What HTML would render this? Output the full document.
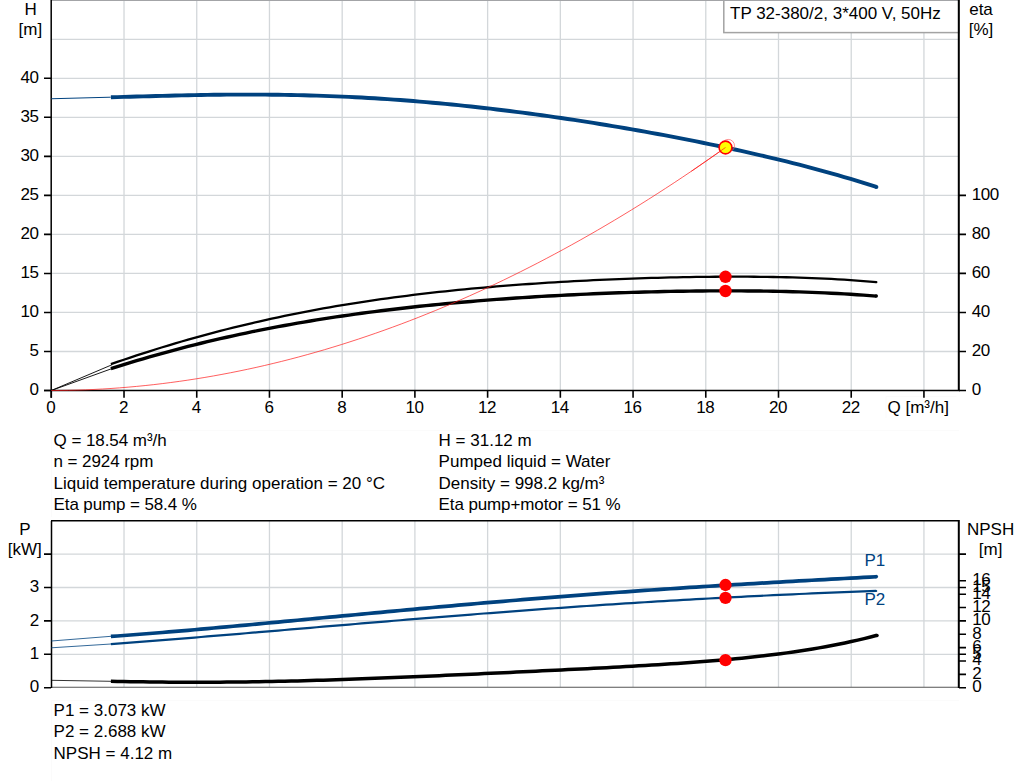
<!DOCTYPE html><html><head><meta charset="utf-8"><style>
html,body{margin:0;padding:0;background:#fff;}
svg{display:block;}
text{font-family:'Liberation Sans', Arial, sans-serif;font-size:17px;fill:#000;} .n{letter-spacing:-0.45px;}
</style></head><body>
<svg width="1024" height="781" viewBox="0 0 1024 781">
<rect width="1024" height="781" fill="#fff"/>
<path d="M124.02,0 V390.5 M196.74,0 V390.5 M269.46,0 V390.5 M342.18,0 V390.5 M414.90,0 V390.5 M487.62,0 V390.5 M560.34,0 V390.5 M633.06,0 V390.5 M705.78,0 V390.5 M778.50,0 V390.5 M851.22,0 V390.5 M923.94,0 V390.5 M51.3,351.48 H958.8 M51.3,312.45 H958.8 M51.3,273.43 H958.8 M51.3,234.40 H958.8 M51.3,195.38 H958.8 M51.3,156.35 H958.8 M51.3,117.32 H958.8 M51.3,78.30 H958.8 M51.3,39.28 H958.8" stroke="#d3d7da" stroke-width="1.3" fill="none"/>
<rect x="723.8" y="-1" width="235" height="33.6" fill="#fff" stroke="#a3a3a3" stroke-width="1.5"/>
<text x="730" y="19">TP 32-380/2, 3*400 V, 50Hz</text>
<path d="M51,0.5 H959" stroke="#a3a4a7" stroke-width="1.2"/>
<path d="M886,418 V396.5 H956.5" stroke="#fbfbfb" stroke-width="1" fill="none"/>
<path d="M51.2,0 V397.8 M44,390.5 H960" stroke="#000" stroke-width="1.5" fill="none"/>
<path d="M958.8,0 V391" stroke="#000" stroke-width="2" fill="none"/>
<text class="n" x="38.6" y="395.3" text-anchor="end">0</text>
<text class="n" x="38.6" y="356.3" text-anchor="end">5</text>
<text class="n" x="38.6" y="317.2" text-anchor="end">10</text>
<text class="n" x="38.6" y="278.2" text-anchor="end">15</text>
<text class="n" x="38.6" y="239.2" text-anchor="end">20</text>
<text class="n" x="38.6" y="200.2" text-anchor="end">25</text>
<text class="n" x="38.6" y="161.2" text-anchor="end">30</text>
<text class="n" x="38.6" y="122.1" text-anchor="end">35</text>
<text class="n" x="38.6" y="83.1" text-anchor="end">40</text>
<text class="n" x="50.80" y="413" text-anchor="middle">0</text>
<text class="n" x="123.52" y="413" text-anchor="middle">2</text>
<text class="n" x="196.24" y="413" text-anchor="middle">4</text>
<text class="n" x="268.96" y="413" text-anchor="middle">6</text>
<text class="n" x="341.68" y="413" text-anchor="middle">8</text>
<text class="n" x="414.40" y="413" text-anchor="middle">10</text>
<text class="n" x="487.12" y="413" text-anchor="middle">12</text>
<text class="n" x="559.84" y="413" text-anchor="middle">14</text>
<text class="n" x="632.56" y="413" text-anchor="middle">16</text>
<text class="n" x="705.28" y="413" text-anchor="middle">18</text>
<text class="n" x="778.00" y="413" text-anchor="middle">20</text>
<text class="n" x="850.72" y="413" text-anchor="middle">22</text>
<text class="n" x="971.8" y="395.3">0</text>
<text class="n" x="971.8" y="356.3">20</text>
<text class="n" x="971.8" y="317.2">40</text>
<text class="n" x="971.8" y="278.2">60</text>
<text class="n" x="971.8" y="239.2">80</text>
<text class="n" x="971.8" y="200.2">100</text>
<path d="M44,390.50 H51 M44,351.48 H51 M44,312.45 H51 M44,273.43 H51 M44,234.40 H51 M44,195.38 H51 M44,156.35 H51 M44,117.32 H51 M44,78.30 H51 M51.30,390 V397.8 M124.02,390 V397.8 M196.74,390 V397.8 M269.46,390 V397.8 M342.18,390 V397.8 M414.90,390 V397.8 M487.62,390 V397.8 M560.34,390 V397.8 M633.06,390 V397.8 M705.78,390 V397.8 M778.50,390 V397.8 M851.22,390 V397.8 M923.94,390 V397.8 M959,390.50 H966 M959,351.47 H966 M959,312.45 H966 M959,273.42 H966 M959,234.40 H966 M959,195.37 H966" stroke="#000" stroke-width="1.6" fill="none"/>
<text x="30.6" y="15" text-anchor="middle">H</text>
<text x="30.4" y="35" text-anchor="middle">[m]</text>
<text x="981" y="15" text-anchor="middle">eta</text>
<text x="981" y="35" text-anchor="middle">[%]</text>
<text x="887.5" y="413">Q [m³/h]</text>
<path d="M51.3,98.75 L110.7,97.2" stroke="#00427f" stroke-width="1" fill="none"/>
<path d="M110.90,97.29 L117.33,97.10 L123.77,96.92 L130.20,96.73 L136.63,96.55 L143.06,96.37 L149.50,96.19 L155.93,96.01 L162.36,95.84 L168.79,95.68 L175.23,95.52 L181.66,95.37 L188.09,95.24 L194.53,95.11 L200.96,94.99 L207.39,94.89 L213.82,94.80 L220.26,94.73 L226.69,94.67 L233.12,94.62 L239.56,94.59 L245.99,94.58 L252.42,94.58 L258.85,94.60 L265.29,94.64 L271.72,94.69 L278.15,94.77 L284.58,94.86 L291.02,94.98 L297.45,95.11 L303.88,95.27 L310.32,95.44 L316.75,95.63 L323.18,95.85 L329.61,96.08 L336.05,96.34 L342.48,96.62 L348.91,96.91 L355.35,97.23 L361.78,97.57 L368.21,97.93 L374.64,98.32 L381.08,98.72 L387.51,99.14 L393.94,99.59 L400.37,100.05 L406.81,100.54 L413.24,101.05 L419.67,101.57 L426.11,102.12 L432.54,102.69 L438.97,103.28 L445.40,103.88 L451.84,104.51 L458.27,105.16 L464.70,105.83 L471.14,106.51 L477.57,107.22 L484.00,107.94 L490.43,108.68 L496.87,109.44 L503.30,110.22 L509.73,111.02 L516.16,111.83 L522.60,112.67 L529.03,113.52 L535.46,114.38 L541.90,115.27 L548.33,116.17 L554.76,117.09 L561.19,118.02 L567.63,118.97 L574.06,119.94 L580.49,120.92 L586.93,121.92 L593.36,122.94 L599.79,123.97 L606.22,125.02 L612.66,126.09 L619.09,127.17 L625.52,128.27 L631.95,129.38 L638.39,130.51 L644.82,131.65 L651.25,132.81 L657.69,133.99 L664.12,135.19 L670.55,136.40 L676.98,137.63 L683.42,138.87 L689.85,140.14 L696.28,141.42 L702.72,142.72 L709.15,144.04 L715.58,145.37 L722.01,146.73 L728.45,148.11 L734.88,149.50 L741.31,150.92 L747.74,152.36 L754.18,153.82 L760.61,155.30 L767.04,156.81 L773.48,158.34 L779.91,159.90 L786.34,161.48 L792.77,163.09 L799.21,164.73 L805.64,166.39 L812.07,168.09 L818.51,169.82 L824.94,171.58 L831.37,173.37 L837.80,175.19 L844.24,177.05 L850.67,178.95 L857.10,180.89 L863.53,182.87 L869.97,184.89 L876.40,186.95" stroke="#00427f" stroke-width="3.9" fill="none" stroke-linejoin="round"/>
<circle cx="876.4" cy="187" r="2" fill="#00427f"/>
<path d="M51.3,390.5 L111.9,364.8 M51.3,390.5 L111.9,368.6" stroke="#000" stroke-width="0.9" fill="none"/>
<path d="M110.90,364.17 L117.33,361.94 L123.76,359.74 L130.20,357.58 L136.63,355.45 L143.06,353.35 L149.49,351.29 L155.92,349.27 L162.36,347.27 L168.79,345.32 L175.22,343.40 L181.65,341.51 L188.08,339.66 L194.52,337.84 L200.95,336.05 L207.38,334.30 L213.81,332.59 L220.24,330.91 L226.67,329.26 L233.11,327.65 L239.54,326.07 L245.97,324.53 L252.40,323.01 L258.83,321.53 L265.27,320.09 L271.70,318.67 L278.13,317.29 L284.56,315.94 L290.99,314.62 L297.43,313.33 L303.86,312.07 L310.29,310.84 L316.72,309.65 L323.15,308.48 L329.59,307.34 L336.02,306.23 L342.45,305.14 L348.88,304.09 L355.31,303.06 L361.75,302.06 L368.18,301.08 L374.61,300.14 L381.04,299.21 L387.47,298.32 L393.91,297.44 L400.34,296.59 L406.77,295.77 L413.20,294.97 L419.63,294.19 L426.06,293.43 L432.50,292.69 L438.93,291.98 L445.36,291.29 L451.79,290.61 L458.22,289.96 L464.66,289.33 L471.09,288.72 L477.52,288.12 L483.95,287.54 L490.38,286.99 L496.82,286.45 L503.25,285.92 L509.68,285.41 L516.11,284.92 L522.54,284.45 L528.98,283.99 L535.41,283.55 L541.84,283.12 L548.27,282.71 L554.70,282.31 L561.14,281.93 L567.57,281.56 L574.00,281.20 L580.43,280.86 L586.86,280.53 L593.29,280.21 L599.73,279.91 L606.16,279.62 L612.59,279.35 L619.02,279.08 L625.45,278.83 L631.89,278.60 L638.32,278.37 L644.75,278.16 L651.18,277.96 L657.61,277.78 L664.05,277.61 L670.48,277.45 L676.91,277.30 L683.34,277.17 L689.77,277.05 L696.21,276.95 L702.64,276.86 L709.07,276.79 L715.50,276.73 L721.93,276.69 L728.37,276.66 L734.80,276.65 L741.23,276.66 L747.66,276.69 L754.09,276.73 L760.53,276.79 L766.96,276.88 L773.39,276.98 L779.82,277.10 L786.25,277.25 L792.68,277.42 L799.12,277.61 L805.55,277.83 L811.98,278.07 L818.41,278.34 L824.84,278.64 L831.28,278.97 L837.71,279.33 L844.14,279.71 L850.57,280.13 L857.00,280.59 L863.44,281.08 L869.87,281.61 L876.30,282.17" stroke="#000" stroke-width="2.3" fill="none" stroke-linejoin="round"/>
<path d="M110.90,368.70 L117.33,366.64 L123.76,364.63 L130.20,362.65 L136.63,360.71 L143.06,358.81 L149.49,356.94 L155.92,355.11 L162.36,353.31 L168.79,351.55 L175.22,349.82 L181.65,348.13 L188.08,346.47 L194.52,344.85 L200.95,343.26 L207.38,341.70 L213.81,340.18 L220.24,338.69 L226.67,337.23 L233.11,335.80 L239.54,334.41 L245.97,333.04 L252.40,331.71 L258.83,330.40 L265.27,329.13 L271.70,327.88 L278.13,326.66 L284.56,325.47 L290.99,324.31 L297.43,323.18 L303.86,322.07 L310.29,321.00 L316.72,319.94 L323.15,318.91 L329.59,317.91 L336.02,316.94 L342.45,315.98 L348.88,315.06 L355.31,314.15 L361.75,313.27 L368.18,312.41 L374.61,311.57 L381.04,310.76 L387.47,309.97 L393.91,309.20 L400.34,308.44 L406.77,307.71 L413.20,307.00 L419.63,306.31 L426.06,305.64 L432.50,304.99 L438.93,304.35 L445.36,303.73 L451.79,303.14 L458.22,302.55 L464.66,301.99 L471.09,301.44 L477.52,300.91 L483.95,300.39 L490.38,299.89 L496.82,299.41 L503.25,298.94 L509.68,298.48 L516.11,298.04 L522.54,297.62 L528.98,297.20 L535.41,296.81 L541.84,296.42 L548.27,296.05 L554.70,295.69 L561.14,295.35 L567.57,295.02 L574.00,294.70 L580.43,294.39 L586.86,294.10 L593.29,293.82 L599.73,293.55 L606.16,293.29 L612.59,293.05 L619.02,292.82 L625.45,292.60 L631.89,292.39 L638.32,292.20 L644.75,292.02 L651.18,291.85 L657.61,291.69 L664.05,291.55 L670.48,291.42 L676.91,291.30 L683.34,291.19 L689.77,291.10 L696.21,291.02 L702.64,290.96 L709.07,290.91 L715.50,290.87 L721.93,290.85 L728.37,290.85 L734.80,290.86 L741.23,290.88 L747.66,290.93 L754.09,290.98 L760.53,291.06 L766.96,291.15 L773.39,291.27 L779.82,291.40 L786.25,291.55 L792.68,291.72 L799.12,291.91 L805.55,292.12 L811.98,292.36 L818.41,292.62 L824.84,292.90 L831.28,293.20 L837.71,293.54 L844.14,293.89 L850.57,294.28 L857.00,294.69 L863.44,295.13 L869.87,295.60 L876.30,296.10" stroke="#000" stroke-width="3.4" fill="none" stroke-linejoin="round"/>
<path d="M51.30,390.50 L59.83,390.46 L68.37,390.33 L76.90,390.12 L85.43,389.83 L93.97,389.46 L102.50,389.01 L111.03,388.47 L119.56,387.86 L128.10,387.17 L136.63,386.40 L145.16,385.55 L153.70,384.63 L162.23,383.62 L170.76,382.53 L179.30,381.37 L187.83,380.13 L196.36,378.81 L204.90,377.42 L213.43,375.94 L221.96,374.39 L230.49,372.76 L239.03,371.05 L247.56,369.27 L256.09,367.41 L264.63,365.47 L273.16,363.45 L281.69,361.36 L290.23,359.19 L298.76,356.94 L307.29,354.61 L315.83,352.21 L324.36,349.74 L332.89,347.18 L341.43,344.55 L349.96,341.84 L358.49,339.06 L367.02,336.20 L375.56,333.26 L384.09,330.25 L392.62,327.16 L401.16,324.00 L409.69,320.75 L418.22,317.44 L426.76,314.04 L435.29,310.57 L443.82,307.03 L452.36,303.41 L460.89,299.71 L469.42,295.93 L477.95,292.08 L486.49,288.16 L495.02,284.16 L503.55,280.08 L512.09,275.93 L520.62,271.70 L529.15,267.40 L537.69,263.02 L546.22,258.56 L554.75,254.03 L563.29,249.43 L571.82,244.74 L580.35,239.99 L588.88,235.16 L597.42,230.25 L605.95,225.26 L614.48,220.21 L623.02,215.07 L631.55,209.86 L640.08,204.58 L648.62,199.22 L657.15,193.79 L665.68,188.28 L674.22,182.69 L682.75,177.03 L691.28,171.30 L699.82,165.49 L708.35,159.60 L716.88,153.64 L725.41,147.61" stroke="#ff1a1a" stroke-width="0.7" fill="none"/>
<circle cx="728.2" cy="145.7" r="6.3" fill="none" stroke="#ff6060" stroke-width="0.7"/>
<circle cx="725.5" cy="147.5" r="6.4" fill="#ffff00" stroke="#ff0000" stroke-width="1.6"/>
<path d="M691.24,171.33 L725.5,147.5" stroke="#ff1a1a" stroke-width="0.7"/>
<circle cx="876.3" cy="282.2" r="1.15" fill="#000"/>
<circle cx="876.3" cy="296.0" r="1.7" fill="#000"/>
<circle cx="725.5" cy="276.8" r="6.2" fill="#ff0000"/>
<circle cx="725.5" cy="291.0" r="6.2" fill="#ff0000"/>
<path d="M51.5,517 V430.5 H959" stroke="#fbfbfb" stroke-width="1" fill="none"/>
<text x="53.6" y="446" textLength="113.0" lengthAdjust="spacing">Q = 18.54 m³/h</text>
<text x="53.6" y="467" textLength="99.8" lengthAdjust="spacing">n = 2924 rpm</text>
<text x="53.6" y="489">Liquid temperature during operation = 20 °C</text>
<text x="53.6" y="510" textLength="143.2" lengthAdjust="spacing">Eta pump = 58.4 %</text>
<text x="438.6" y="446">H = 31.12 m</text>
<text x="438.6" y="467">Pumped liquid = Water</text>
<text x="438.6" y="489">Density = 998.2 kg/m³</text>
<text x="438.6" y="510" textLength="182.0" lengthAdjust="spacing">Eta pump+motor = 51 %</text>
<path d="M124.02,521 V687 M196.74,521 V687 M269.46,521 V687 M342.18,521 V687 M414.90,521 V687 M487.62,521 V687 M560.34,521 V687 M633.06,521 V687 M705.78,521 V687 M778.50,521 V687 M851.22,521 V687 M923.94,521 V687 M51.3,654.30 H958.8 M51.3,620.90 H958.8 M51.3,587.50 H958.8 M51.3,554.10 H958.8" stroke="#d3d7da" stroke-width="1.3" fill="none"/>
<path d="M51.3,687.3 H959" stroke="#555" stroke-width="1.1" fill="none"/>
<path d="M51.5,521 V688 M51,520.8 H959" stroke="#000" stroke-width="1.5" fill="none"/>
<path d="M958.8,520 V688" stroke="#000" stroke-width="2" fill="none"/>
<text class="n" x="38.8" y="692.3" text-anchor="end">0</text>
<text class="n" x="38.8" y="658.9" text-anchor="end">1</text>
<text class="n" x="38.8" y="625.5" text-anchor="end">2</text>
<text class="n" x="38.8" y="592.1" text-anchor="end">3</text>
<text class="n" x="972.2" y="692.1">0</text>
<text class="n" x="972.2" y="678.7">2</text>
<text class="n" x="972.2" y="665.4">4</text>
<text class="n" x="972.2" y="658.7">5</text>
<text class="n" x="972.2" y="652.0">6</text>
<text class="n" x="972.2" y="638.7">8</text>
<text class="n" x="972.2" y="625.3">10</text>
<text class="n" x="972.2" y="611.9">12</text>
<text class="n" x="972.2" y="598.6">14</text>
<text class="n" x="972.2" y="591.9">15</text>
<text class="n" x="972.2" y="585.2">16</text>
<path d="M44,687.70 H51 M44,654.30 H51 M44,620.90 H51 M44,587.50 H51 M44,554.10 H51 M959,687.70 H966 M959,674.34 H966 M959,660.98 H966 M959,654.30 H966 M959,647.62 H966 M959,634.26 H966 M959,620.90 H966 M959,607.54 H966 M959,594.18 H966 M959,587.50 H966 M959,580.82 H966 M959,554.10 H966" stroke="#000" stroke-width="1.6" fill="none"/>
<text x="24.8" y="535" text-anchor="middle">P</text>
<text x="24.8" y="554.5" text-anchor="middle">[kW]</text>
<text x="990.6" y="535" text-anchor="middle">NPSH</text>
<text x="990.6" y="554.5" text-anchor="middle">[m]</text>
<path d="M51.3,641 L111,636.3 M51.3,647.8 L111,644" stroke="#00427f" stroke-width="0.8" fill="none"/>
<path d="M110.90,636.45 L117.33,635.98 L123.76,635.51 L130.19,635.02 L136.62,634.53 L143.06,634.02 L149.49,633.51 L155.92,632.99 L162.35,632.47 L168.78,631.93 L175.21,631.39 L181.64,630.84 L188.07,630.29 L194.50,629.73 L200.94,629.16 L207.37,628.59 L213.80,628.02 L220.23,627.44 L226.66,626.85 L233.09,626.27 L239.52,625.67 L245.95,625.08 L252.38,624.48 L258.82,623.88 L265.25,623.28 L271.68,622.67 L278.11,622.06 L284.54,621.45 L290.97,620.84 L297.40,620.23 L303.83,619.62 L310.26,619.01 L316.69,618.39 L323.13,617.78 L329.56,617.17 L335.99,616.55 L342.42,615.94 L348.85,615.33 L355.28,614.72 L361.71,614.11 L368.14,613.50 L374.57,612.89 L381.01,612.29 L387.44,611.68 L393.87,611.08 L400.30,610.48 L406.73,609.88 L413.16,609.29 L419.59,608.70 L426.02,608.11 L432.45,607.52 L438.89,606.94 L445.32,606.36 L451.75,605.79 L458.18,605.21 L464.61,604.64 L471.04,604.08 L477.47,603.52 L483.90,602.96 L490.33,602.41 L496.77,601.86 L503.20,601.31 L509.63,600.77 L516.06,600.23 L522.49,599.70 L528.92,599.17 L535.35,598.65 L541.78,598.13 L548.21,597.62 L554.65,597.11 L561.08,596.60 L567.51,596.10 L573.94,595.60 L580.37,595.11 L586.80,594.63 L593.23,594.14 L599.66,593.67 L606.09,593.20 L612.53,592.73 L618.96,592.27 L625.39,591.81 L631.82,591.35 L638.25,590.90 L644.68,590.46 L651.11,590.02 L657.54,589.59 L663.97,589.15 L670.41,588.73 L676.84,588.31 L683.27,587.89 L689.70,587.47 L696.13,587.06 L702.56,586.66 L708.99,586.26 L715.42,585.86 L721.85,585.46 L728.28,585.07 L734.72,584.68 L741.15,584.30 L747.58,583.92 L754.01,583.54 L760.44,583.17 L766.87,582.79 L773.30,582.42 L779.73,582.06 L786.16,581.69 L792.60,581.33 L799.03,580.97 L805.46,580.61 L811.89,580.25 L818.32,579.90 L824.75,579.54 L831.18,579.19 L837.61,578.84 L844.04,578.48 L850.48,578.13 L856.91,577.78 L863.34,577.43 L869.77,577.08 L876.20,576.73" stroke="#00427f" stroke-width="3.7" fill="none"/>
<circle cx="876.2" cy="576.6" r="1.85" fill="#00427f"/>
<path d="M110.90,644.08 L117.33,643.60 L123.76,643.12 L130.19,642.63 L136.62,642.13 L143.06,641.64 L149.49,641.14 L155.92,640.63 L162.35,640.12 L168.78,639.61 L175.21,639.10 L181.64,638.58 L188.07,638.06 L194.50,637.53 L200.94,637.00 L207.37,636.47 L213.80,635.94 L220.23,635.41 L226.66,634.87 L233.09,634.34 L239.52,633.80 L245.95,633.26 L252.38,632.71 L258.82,632.17 L265.25,631.63 L271.68,631.08 L278.11,630.54 L284.54,629.99 L290.97,629.45 L297.40,628.90 L303.83,628.35 L310.26,627.81 L316.69,627.26 L323.13,626.71 L329.56,626.17 L335.99,625.62 L342.42,625.08 L348.85,624.53 L355.28,623.99 L361.71,623.45 L368.14,622.91 L374.57,622.37 L381.01,621.83 L387.44,621.30 L393.87,620.76 L400.30,620.23 L406.73,619.70 L413.16,619.17 L419.59,618.65 L426.02,618.12 L432.45,617.60 L438.89,617.08 L445.32,616.57 L451.75,616.05 L458.18,615.54 L464.61,615.03 L471.04,614.53 L477.47,614.02 L483.90,613.52 L490.33,613.03 L496.77,612.54 L503.20,612.05 L509.63,611.56 L516.06,611.08 L522.49,610.60 L528.92,610.12 L535.35,609.65 L541.78,609.18 L548.21,608.72 L554.65,608.25 L561.08,607.80 L567.51,607.34 L573.94,606.90 L580.37,606.45 L586.80,606.01 L593.23,605.57 L599.66,605.14 L606.09,604.71 L612.53,604.29 L618.96,603.87 L625.39,603.46 L631.82,603.05 L638.25,602.64 L644.68,602.24 L651.11,601.84 L657.54,601.45 L663.97,601.06 L670.41,600.68 L676.84,600.30 L683.27,599.93 L689.70,599.56 L696.13,599.19 L702.56,598.84 L708.99,598.48 L715.42,598.13 L721.85,597.79 L728.28,597.44 L734.72,597.11 L741.15,596.78 L747.58,596.45 L754.01,596.13 L760.44,595.81 L766.87,595.50 L773.30,595.19 L779.73,594.89 L786.16,594.59 L792.60,594.30 L799.03,594.01 L805.46,593.73 L811.89,593.45 L818.32,593.18 L824.75,592.91 L831.18,592.64 L837.61,592.38 L844.04,592.12 L850.48,591.87 L856.91,591.63 L863.34,591.38 L869.77,591.14 L876.20,590.91" stroke="#00427f" stroke-width="2.2" fill="none"/>
<circle cx="876.2" cy="591.0" r="1.1" fill="#00427f"/>
<path d="M51.3,680.3 L111,681.3" stroke="#000" stroke-width="0.8" fill="none"/>
<path d="M110.90,681.26 L117.34,681.40 L123.78,681.53 L130.21,681.65 L136.65,681.75 L143.09,681.85 L149.53,681.94 L155.96,682.02 L162.40,682.09 L168.84,682.14 L175.28,682.18 L181.72,682.22 L188.15,682.24 L194.59,682.25 L201.03,682.25 L207.47,682.23 L213.91,682.21 L220.34,682.17 L226.78,682.12 L233.22,682.06 L239.66,681.99 L246.09,681.91 L252.53,681.82 L258.97,681.72 L265.41,681.60 L271.85,681.48 L278.28,681.35 L284.72,681.20 L291.16,681.05 L297.60,680.89 L304.03,680.72 L310.47,680.54 L316.91,680.35 L323.35,680.16 L329.79,679.96 L336.22,679.75 L342.66,679.53 L349.10,679.31 L355.54,679.07 L361.97,678.84 L368.41,678.60 L374.85,678.35 L381.29,678.10 L387.73,677.84 L394.16,677.58 L400.60,677.31 L407.04,677.04 L413.48,676.77 L419.92,676.49 L426.35,676.21 L432.79,675.93 L439.23,675.64 L445.67,675.35 L452.10,675.06 L458.54,674.77 L464.98,674.48 L471.42,674.18 L477.86,673.88 L484.29,673.59 L490.73,673.29 L497.17,672.99 L503.61,672.68 L510.04,672.38 L516.48,672.08 L522.92,671.77 L529.36,671.47 L535.80,671.16 L542.23,670.85 L548.67,670.54 L555.11,670.23 L561.55,669.91 L567.98,669.60 L574.42,669.28 L580.86,668.95 L587.30,668.63 L593.74,668.30 L600.17,667.97 L606.61,667.63 L613.05,667.29 L619.49,666.94 L625.93,666.59 L632.36,666.23 L638.80,665.86 L645.24,665.48 L651.68,665.10 L658.11,664.70 L664.55,664.29 L670.99,663.87 L677.43,663.44 L683.87,663.00 L690.30,662.54 L696.74,662.06 L703.18,661.57 L709.62,661.05 L716.05,660.52 L722.49,659.96 L728.93,659.39 L735.37,658.78 L741.81,658.16 L748.24,657.50 L754.68,656.81 L761.12,656.10 L767.56,655.35 L773.99,654.56 L780.43,653.74 L786.87,652.87 L793.31,651.97 L799.75,651.02 L806.18,650.03 L812.62,648.99 L819.06,647.89 L825.50,646.74 L831.94,645.54 L838.37,644.28 L844.81,642.96 L851.25,641.57 L857.69,640.11 L864.12,638.59 L870.56,636.99 L877.00,635.31" stroke="#000" stroke-width="3.5" fill="none"/>
<circle cx="877" cy="635.4" r="1.75" fill="#000"/>
<circle cx="725.5" cy="585.0" r="6.15" fill="#ff0000"/>
<circle cx="725.5" cy="597.95" r="6.15" fill="#ff0000"/>
<circle cx="725.5" cy="660.2" r="6.15" fill="#ff0000"/>
<text x="864.5" y="565.6" style="fill:#00427f">P1</text>
<text x="864.5" y="605.4" style="fill:#00427f">P2</text>
<path d="M51.5,781 V700.5 H959" stroke="#fbfbfb" stroke-width="1" fill="none"/>
<text x="53.6" y="716">P1 = 3.073 kW</text>
<text x="53.6" y="737">P2 = 2.688 kW</text>
<text x="53.6" y="759">NPSH = 4.12 m</text>
</svg></body></html>
